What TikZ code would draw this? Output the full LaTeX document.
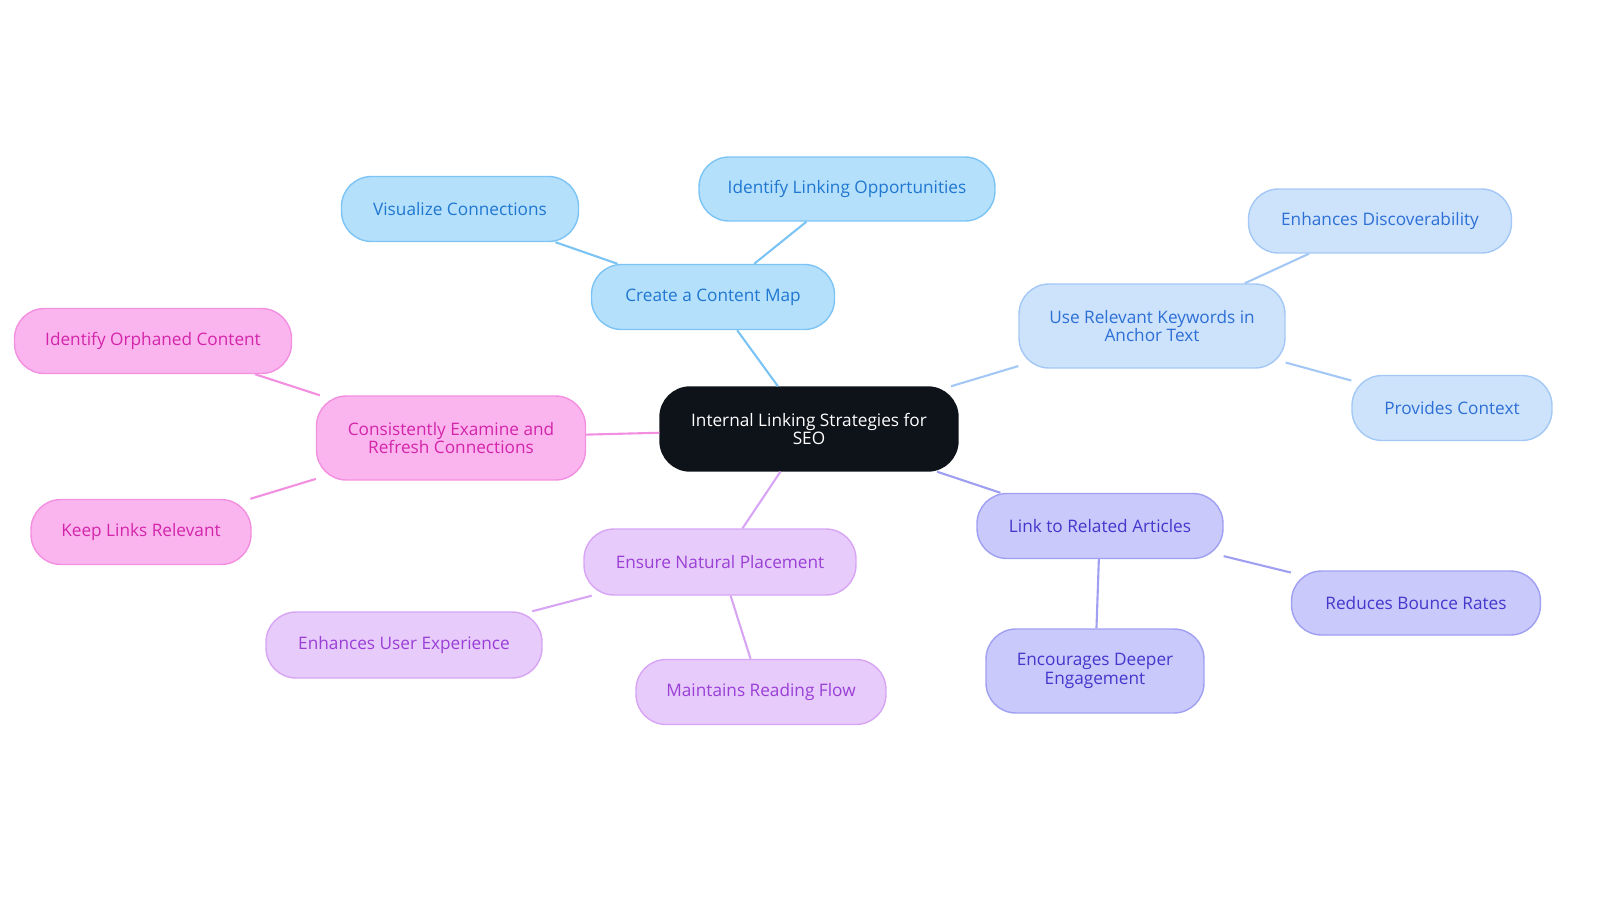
\documentclass[tikz,border=0pt]{standalone}
\usepackage{fontspec}
\setmainfont{Open Sans}
\definecolor{rf}{HTML}{0E1219}
\definecolor{bF}{HTML}{B5E0FC}\definecolor{bD}{HTML}{7CC4F4}\definecolor{bT}{HTML}{1F77D0}
\definecolor{lF}{HTML}{CDE3FB}\definecolor{lD}{HTML}{A3C8F5}\definecolor{lT}{HTML}{2D6FD6}
\definecolor{vF}{HTML}{C9C9FB}\definecolor{vD}{HTML}{A0A0F2}\definecolor{vT}{HTML}{4337CC}
\definecolor{pF}{HTML}{E7CBFB}\definecolor{pD}{HTML}{D7A5F4}\definecolor{pT}{HTML}{9A3FD6}
\definecolor{mF}{HTML}{FBB5EE}\definecolor{mD}{HTML}{F28FE0}\definecolor{mT}{HTML}{D325AA}
\begin{document}
\begin{tikzpicture}[x=0.02cm,y=-0.02cm,
 base/.style={rounded corners=0.6cm,draw,line width=0.8pt,align=center,font=\fontsize{9.8}{10.5}\selectfont,inner sep=0pt},
 root/.style={base,fill=rf,draw=rf,text=white},
 blue/.style={base,fill=bF,draw=bD,text=bT},
 lblue/.style={base,fill=lF,draw=lD,text=lT},
 violet/.style={base,fill=vF,draw=vD,text=vT},
 purple/.style={base,fill=pF,draw=pD,text=pT},
 pink/.style={base,fill=mF,draw=mD,text=mT},
 eb/.style={draw=bD,line width=1.2pt},
 el/.style={draw=lD,line width=1.2pt},
 ev/.style={draw=vD,line width=1.2pt},
 ep/.style={draw=pD,line width=1.2pt},
 em/.style={draw=mD,line width=1.2pt}]
\clip (0,0) rectangle (1600,903);
\node[root,minimum width=5.96cm,minimum height=1.68cm] (c) at (809,429) {Internal Linking Strategies for\\SEO};
\node[blue,minimum width=4.86cm,minimum height=1.3cm] (cm) at (713,297) {Create a Content Map};
\node[blue,minimum width=4.74cm,minimum height=1.3cm] (vc) at (460,209) {Visualize Connections};
\node[blue,minimum width=5.92cm,minimum height=1.28cm] (il) at (847,189) {Identify Linking Opportunities};
\node[lblue,minimum width=5.32cm,minimum height=1.68cm] (uk) at (1152,326) {Use Relevant Keywords in\\Anchor Text};
\node[lblue,minimum width=5.26cm,minimum height=1.28cm] (ed) at (1380,221) {Enhances Discoverability};
\node[lblue,minimum width=4.0cm,minimum height=1.3cm] (pc) at (1452,408) {Provides Context};
\node[violet,minimum width=4.92cm,minimum height=1.3cm] (lr) at (1100,526) {Link to Related Articles};
\node[violet,minimum width=4.98cm,minimum height=1.28cm] (rb) at (1416,603) {Reduces Bounce Rates};
\node[violet,minimum width=4.36cm,minimum height=1.68cm] (de) at (1095,671) {Encourages Deeper\\Engagement};
\node[purple,minimum width=5.44cm,minimum height=1.32cm] (np) at (720,562) {Ensure Natural Placement};
\node[purple,minimum width=5.52cm,minimum height=1.32cm] (ux) at (404,645) {Enhances User Experience};
\node[purple,minimum width=5.0cm,minimum height=1.3cm] (rfl) at (761,692) {Maintains Reading Flow};
\node[pink,minimum width=5.38cm,minimum height=1.68cm] (ce) at (451,438) {Consistently Examine and\\Refresh Connections};
\node[pink,minimum width=5.54cm,minimum height=1.3cm] (oc) at (153,341) {Identify Orphaned Content};
\node[pink,minimum width=4.4cm,minimum height=1.3cm] (kl) at (141,532) {Keep Links Relevant};
\draw[eb] (c) -- (cm); \draw[eb] (cm) -- (vc); \draw[eb] (cm) -- (il);
\draw[el] (c) -- (uk); \draw[el] (uk) -- (ed); \draw[el] (uk) -- (pc);
\draw[ev] (c) -- (lr); \draw[ev] (lr) -- (rb); \draw[ev] (lr) -- (de);
\draw[ep] (c) -- (np); \draw[ep] (np) -- (ux); \draw[ep] (np) -- (rfl);
\draw[em] (c) -- (ce); \draw[em] (ce) -- (oc); \draw[em] (ce) -- (kl);
\end{tikzpicture}
\end{document}
